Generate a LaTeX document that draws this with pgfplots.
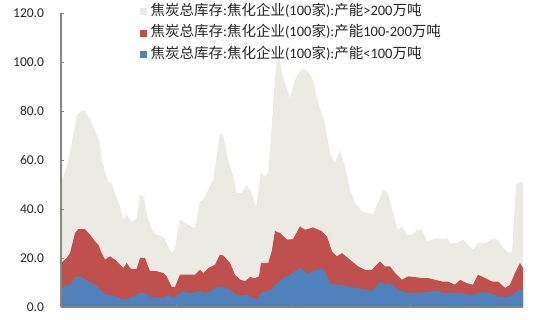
\documentclass[border=0pt]{standalone}
\usepackage{fontspec}
\setmainfont{Carlito}
\newfontfamily\cjk{Noto Sans CJK SC}
\usepackage{pgfplots}
\usepackage{pgfplotstable}
\pgfplotsset{compat=1.18}
\definecolor{cbeige}{RGB}{236,235,227}
\definecolor{cred}{RGB}{192,80,77}
\definecolor{cblue}{RGB}{79,129,189}
\definecolor{caxis}{RGB}{134,134,134}

% cumulative top of the ">200" layer (total)
\pgfplotstableread{
x y
61 51
66.7 57
71.7 67
76.7 78
81.7 80
85 80
90 76.5
95 72
100 67
101.7 60
105 55
108.3 51
111.7 50.6
115 46.5
120 41
123.3 35.6
126.7 37.7
131.7 34.6
136.7 36.3
140 45.9
144 45
146.7 38
151.7 31.6
156.7 29.5
163.3 28.6
166.7 26
171.7 22
175 24
180 35.6
185 34.3
190 33
195 32.2
200 43
203.3 43.8
208.3 47.9
213.3 52
216.7 61.5
220 71
223.3 69.7
228.3 60
233.3 53.3
236.7 46.5
241.7 46.5
246.7 50
251.7 46.5
256 40.4
260.7 54.7
265 53.3
268.3 54.7
271.7 73.7
275 94
278 104
283 94
290 85.3
295 92.8
302 97.5
308 96
313 92.8
318 83.3
325 75
330 62.9
335 58.8
340 64.2
345 57.4
350 47.9
355 42.5
362 39
368 38.4
373 37.7
378 42.5
383 47.9
388 46.5
393 38.4
398 31.5
402 32.9
407 29.5
412 29.5
417 31.5
422 31.5
427 26.8
432 27.5
438 28.2
443 27.5
447 28.2
450 26.1
457 26.1
463 27.5
468 25.4
473 23.4
478 26.1
485 26.1
492 27.7
498 27.5
503 24.1
508 22.3
512 22.3
516 50
520 50.9
523 50.6
}\totaltable

% cumulative top of the "100-200" layer
\pgfplotstableread{
x y
61 18
66.7 20
70 22
75 30.2
78.3 31.8
85 31.8
90 29.5
95 26.8
98.3 25.4
101.7 22
105 19.3
110 20.7
115 19.3
120 17.3
123.3 15.9
126.7 18
130.7 15.6
136.7 15.6
140 20
145 20
150 14.6
156.7 14.6
163.3 13.9
166.7 12.5
171.7 8.2
175 8.2
180 13.2
186.7 13.2
195 13.2
200 15.2
203.3 13.9
208.3 15.9
215 17.3
220 21.4
223.3 21
230 18
235 13.2
240 11.2
245 10.5
250 12.2
255 11.8
259 12.5
261 18
268.3 18
271.7 22.7
275 31
280 30.2
287 27.5
293 27.7
300 32.9
305 31.5
313 32.5
322 30.9
327 28.8
332 22.7
337 20.7
342 22
350 19.3
358 16.6
365 15.2
372 15.2
375 16.6
380 18.6
385 16.6
390 16.6
395 13.9
402 11.1
408 12.5
415 12.2
422 11.8
428 11.8
435 11.1
442 10.4
448 10.4
455 9.1
460 11.1
467 9.7
473 9.1
478 13.2
485 11.8
492 10.4
498 10.4
505 7.8
510 9.1
515 13.9
520 18
523 15.9
}\midtable

% "<100" layer
\pgfplotstableread{
x y
61 7.1
65 8.7
70 9.1
75 12.2
80 12.5
85 11.2
90 10.1
96.7 8.7
101.7 6.4
106.7 5
115 4.4
121.7 3.3
128.3 3.4
133.3 4.4
140 5.7
145 5.7
150 4.1
156.7 3.9
163.3 3.7
168.3 5
173.3 3.7
178.3 5
183.3 6.4
188.3 5.7
193.3 5.7
200 6.4
205 5.7
210 6.4
216.7 8.2
223.3 8.2
230 7.1
235 5.4
240 4.6
246.7 5
251.7 4.1
256.7 3
261.7 6
266.7 6.3
271.7 7
275 9
282 11.4
290 13.2
300 15.9
308 13.6
315 14.9
323 15.9
330 9.8
335 9.1
345 8.8
355 7.8
365 7.3
372 6.4
380 10.4
385 9.1
390 9.8
398 7.1
407 5.7
418 5.7
428 6.1
438 6.7
443 5.7
455 5.7
465 5.4
472 5
482 6.1
490 5.7
497 4.3
508 4.1
513 5
520 7.3
523 6.8
}\lowtable

\begin{document}
\begin{tikzpicture}
\path[use as bounding box] (-61bp,-13bp) rectangle (489bp,307bp);
\begin{axis}[
  at={(0,0)}, anchor=south west,
  scale only axis, width=462bp, height=294bp,
  xmin=61, xmax=523, ymin=0, ymax=120,
  axis lines=left,
  axis line style={-, draw=caxis, line width=1.2bp},
  axis on top,
  xtick={176,292,410}, xticklabels={},
  ytick={0,20,...,120},
  tick align=inside,
  major tick length=3bp,
  tick style={draw=caxis, line width=0.8bp},
  /pgf/number format/assume math mode=true,
  yticklabel={\pgfmathprintnumber[fixed,fixed zerofill,precision=1]{\tick}},
  yticklabel style={xshift=-13.5bp},
  tick label style={font=\fontsize{13.5bp}{16bp}\selectfont, text=black!85},
  legend style={
    at={(0.171,1.027)}, anchor=north west,
    draw=none, fill=none, inner sep=0pt, outer sep=0pt,
    font=\fontsize{14.5bp}{16bp}\selectfont,
    nodes={inner sep=0pt, text height=10bp, text depth=3bp},
    row sep=8.5bp, column sep=3.7bp,
    text=black!85,
  },
  legend cell align=left,
  legend image code/.code={\fill[#1] (0bp,-3.5bp) rectangle (7bp,3.5bp);},
]
\addplot[fill=cbeige, draw=none] table[x=x,y=y] {\totaltable} \closedcycle;
\addlegendentry{{\cjk 焦炭总库存}:{\cjk 焦化企业}(100{\cjk 家}):{\cjk 产能}>200{\cjk 万吨}}
\addplot[fill=cred, draw=none] table[x=x,y=y] {\midtable} \closedcycle;
\addlegendentry{{\cjk 焦炭总库存}:{\cjk 焦化企业}(100{\cjk 家}):{\cjk 产能}100-200{\cjk 万吨}}
\addplot[fill=cblue, draw=none] table[x=x,y=y] {\lowtable} \closedcycle;
\addlegendentry{{\cjk 焦炭总库存}:{\cjk 焦化企业}(100{\cjk 家}):{\cjk 产能}<100{\cjk 万吨}}
\end{axis}
\end{tikzpicture}
\end{document}
